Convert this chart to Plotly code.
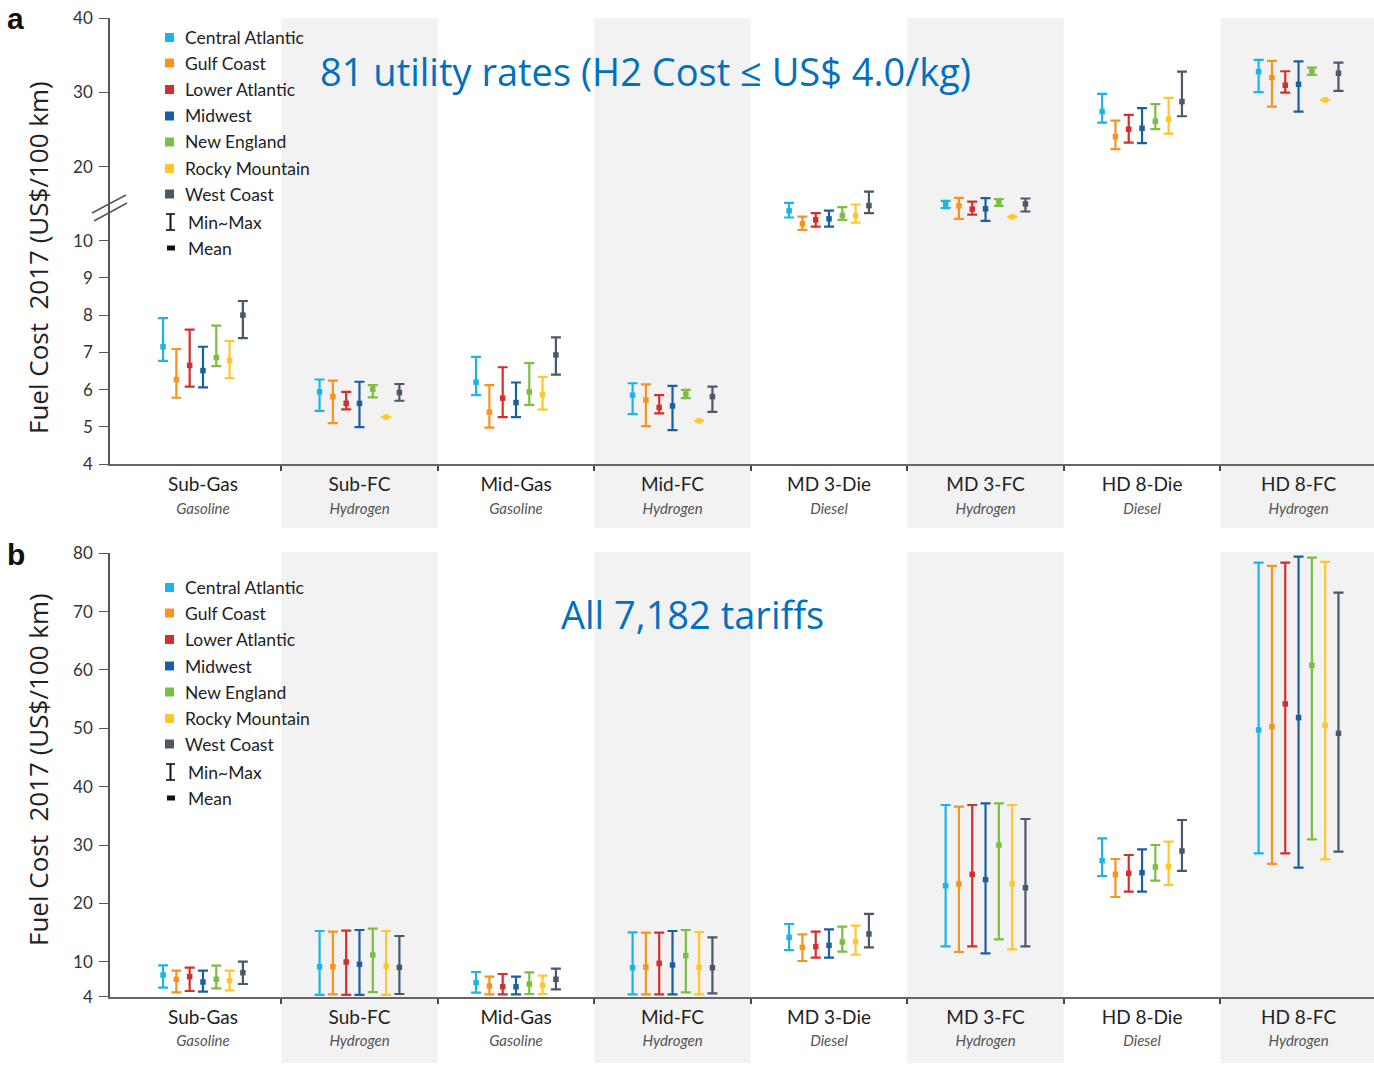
import plotly.graph_objects as go

W, H = 1374, 1066

CATEGORIES = ["Sub-Gas", "Sub-FC", "Mid-Gas", "Mid-FC", "MD 3-Die", "MD 3-FC", "HD 8-Die", "HD 8-FC"]
FUELS = ["Gasoline", "Hydrogen", "Gasoline", "Hydrogen", "Diesel", "Hydrogen", "Diesel", "Hydrogen"]
REGIONS = ["Central Atlantic", "Gulf Coast", "Lower Atlantic", "Midwest", "New England", "Rocky Mountain", "West Coast"]
COLORS = ["#1bb4ea", "#f7931e", "#d32f2f", "#1b5fa3", "#7cbd42", "#ffc72c", "#4b5866"]

# ---- Panel a: 81 utility rates (H2 cost <= US$4.0/kg) ----
A_MEAN = {
    "Central Atlantic": [7.15, 5.94, 6.20, 5.85, 14.03, 14.93, 27.41, 32.80],
    "Gulf Coast":       [6.27, 5.81, 5.39, 5.72, 12.28, 14.70, 24.04, 32.00],
    "Lower Atlantic":   [6.65, 5.63, 5.77, 5.52, 12.82, 14.26, 25.04, 30.97],
    "Midwest":          [6.51, 5.63, 5.65, 5.56, 12.95, 14.30, 25.17, 31.10],
    "New England":      [6.86, 6.01, 5.94, 5.88, 13.40, 15.20, 26.12, 32.90],
    "Rocky Mountain":   [6.78, 5.26, 5.87, 5.16, 13.36, 13.22, 26.39, 28.99],
    "West Coast":       [8.00, 5.92, 6.93, 5.81, 14.74, 14.97, 28.76, 32.59],
}
A_MIN = {
    "Central Atlantic": [6.77, 5.43, 5.85, 5.34, 13.13, 14.39, 25.93, 30.03],
    "Gulf Coast":       [5.78, 5.10, 4.98, 5.02, 11.47, 12.95, 22.34, 28.09],
    "Lower Atlantic":   [6.08, 5.47, 5.26, 5.36, 11.91, 13.53, 23.23, 29.97],
    "Midwest":          [6.06, 4.99, 5.26, 4.91, 11.91, 12.68, 23.15, 27.41],
    "New England":      [6.63, 5.79, 5.59, 5.77, 12.82, 14.70, 25.04, 32.36],
    "Rocky Mountain":   [6.31, 5.26, 5.46, 5.16, 12.45, 13.22, 24.45, 28.99],
    "West Coast":       [7.38, 5.70, 6.40, 5.40, 13.72, 13.94, 26.79, 30.20],
}
A_MAX = {
    "Central Atlantic": [7.92, 6.27, 6.88, 6.17, 15.11, 15.38, 29.80, 34.38],
    "Gulf Coast":       [7.09, 6.24, 6.12, 6.14, 13.26, 15.78, 26.20, 34.25],
    "Lower Atlantic":   [7.61, 5.94, 6.60, 5.85, 13.72, 15.28, 26.97, 32.86],
    "Midwest":          [7.15, 6.21, 6.19, 6.10, 14.07, 15.74, 27.87, 34.20],
    "New England":      [7.72, 6.12, 6.71, 5.99, 14.53, 15.61, 28.41, 33.34],
    "Rocky Mountain":   [7.31, 5.26, 6.34, 5.16, 14.88, 13.22, 29.26, 28.99],
    "West Coast":       [8.38, 6.15, 7.40, 6.08, 16.63, 15.69, 32.80, 34.02],
}

# ---- Panel b: all 7,182 tariffs ----
B_MEAN = {
    "Central Atlantic": [7.72, 9.14, 6.40, 8.97, 14.18, 23.03, 27.32, 49.72],
    "Gulf Coast":       [6.98, 9.14, 5.83, 9.09, 12.46, 23.32, 24.98, 50.29],
    "Lower Atlantic":   [7.43, 9.95, 5.71, 9.72, 12.57, 24.98, 25.15, 54.18],
    "Midwest":          [6.52, 9.55, 5.71, 9.43, 12.81, 24.06, 25.26, 51.83],
    "New England":      [6.98, 11.15, 6.18, 11.03, 13.38, 30.00, 26.23, 60.80],
    "Rocky Mountain":   [6.74, 9.26, 5.95, 9.03, 13.43, 23.38, 26.35, 50.52],
    "West Coast":       [8.12, 9.03, 6.98, 8.97, 14.75, 22.69, 28.98, 49.15],
}
B_MIN = {
    "Central Atlantic": [5.54, 4.30, 4.69, 4.40, 12.00, 12.64, 24.69, 28.58],
    "Gulf Coast":       [4.75, 4.40, 4.40, 4.40, 10.12, 11.66, 21.09, 26.75],
    "Lower Atlantic":   [4.98, 4.30, 4.40, 4.40, 10.69, 12.64, 22.00, 28.58],
    "Midwest":          [4.86, 4.30, 4.40, 4.40, 10.69, 11.43, 22.00, 26.12],
    "New England":      [5.43, 4.80, 4.46, 4.75, 11.71, 13.83, 23.89, 30.98],
    "Rocky Mountain":   [5.10, 4.30, 4.46, 4.40, 11.20, 12.11, 23.15, 27.55],
    "West Coast":       [6.18, 4.46, 5.27, 4.57, 12.46, 12.64, 25.55, 28.86],
}
B_MAX = {
    "Central Atlantic": [9.38, 15.26, 8.23, 15.03, 16.46, 36.86, 31.15, 78.40],
    "Gulf Coast":       [8.46, 15.14, 7.43, 14.97, 14.69, 36.57, 27.60, 77.84],
    "Lower Atlantic":   [8.97, 15.31, 7.89, 14.97, 15.14, 36.86, 28.29, 78.40],
    "Midwest":          [8.46, 15.43, 7.43, 15.26, 15.55, 37.15, 29.26, 79.43],
    "New England":      [9.31, 15.66, 8.17, 15.43, 16.00, 37.15, 30.00, 79.26],
    "Rocky Mountain":   [8.46, 15.26, 7.60, 15.09, 16.17, 36.86, 30.57, 78.52],
    "West Coast":       [10.00, 14.40, 8.80, 14.18, 18.18, 34.46, 34.29, 73.26],
}

A_LOW_TICKS = [4, 5, 6, 7, 8, 9, 10]
A_HIGH_TICKS = [20, 30, 40]
B_TICKS = [4, 10, 20, 30, 40, 50, 60, 70, 80]

FONT = "Lato"
TITLE_FONT = "Open Sans"
BREAK_VALUE = 10


def px(xp):
    return xp / W


def py(yp):
    return 1 - yp / H


X_RANGE = [-0.594, 7.482]
OFFSET_STEP = 0.085
BAND_COLOR = "#f2f2f2"

fig = go.Figure()


def add_series(mean, vmin, vmax, xaxis, yaxis_for):
    for k, reg in enumerate(REGIONS):
        groups = {}
        for i in range(len(CATEGORIES)):
            ya = yaxis_for(vmax[reg][i])
            groups.setdefault(ya, []).append(i)
        for ya, idx in groups.items():
            xs = [i + (k - 3) * OFFSET_STEP for i in idx]
            m = [mean[reg][i] for i in idx]
            plus = [vmax[reg][i] - mean[reg][i] for i in idx]
            minus = [mean[reg][i] - vmin[reg][i] for i in idx]
            fig.add_trace(go.Scatter(
                x=xs, y=m, mode="markers", xaxis=xaxis, yaxis=ya,
                marker=dict(symbol="square", size=5.5, color=COLORS[k]),
                error_y=dict(type="data", symmetric=False, array=plus, arrayminus=minus,
                             color=COLORS[k], thickness=2.2, width=5),
                name=reg, showlegend=False, cliponaxis=False,
            ))


add_series(A_MEAN, A_MIN, A_MAX, "x", lambda v: "y" if v <= BREAK_VALUE else "y2")
add_series(B_MEAN, B_MIN, B_MAX, "x2", lambda v: "y3")

tick_text = [
    f"<span style='font-size:19px'>{c}</span><br>"
    f"<span style='font-size:15px;color:#555555'><i>{f}</i></span>"
    for c, f in zip(CATEGORIES, FUELS)
]
xcommon = dict(
    range=X_RANGE, domain=[px(110), 1.0], showline=True, linecolor="#666666", linewidth=2,
    tickmode="array", tickvals=list(range(len(CATEGORIES))), ticktext=tick_text,
    ticks="", showgrid=False, zeroline=False, ticklabelstandoff=5,
    tickfont=dict(family=FONT, size=17, color="#222222"),
    minor=dict(tickmode="array", tickvals=[i + 0.5 for i in range(len(CATEGORIES) - 1)],
               ticks="outside", ticklen=5, tickcolor="#444444", tickwidth=1.5, showgrid=False),
)
ycommon = dict(
    showline=True, linecolor="#555555", linewidth=1.5, ticks="outside", ticklen=9,
    tickcolor="#555555", tickwidth=1.2, showgrid=False, zeroline=False, tickmode="array",
    tickfont=dict(family=FONT, size=17, color="#333333"), ticklabelstandoff=3,
)

fig.update_layout(
    width=W, height=H, margin=dict(l=0, r=0, t=0, b=0, autoexpand=False),
    paper_bgcolor="white", plot_bgcolor="rgba(0,0,0,0)", showlegend=False,
    xaxis=dict(anchor="y", **xcommon),
    yaxis=dict(domain=[py(464), py(240.7)], range=[4, 10], anchor="x",
               tickvals=A_LOW_TICKS, **ycommon),
    yaxis2=dict(domain=[py(240.7), py(18.3)], range=[10, 40], anchor="x",
                tickvals=A_HIGH_TICKS, **ycommon),
    xaxis2=dict(anchor="y3", **xcommon),
    yaxis3=dict(domain=[py(996.7), py(553.3)], range=[4, 80], anchor="x2",
                tickvals=B_TICKS, **ycommon),
)

shapes = []
for i in range(1, len(CATEGORIES), 2):
    shapes.append(dict(type="rect", xref="x", yref="paper", x0=i - 0.5, x1=i + 0.5,
                       y0=py(528), y1=py(18), fillcolor=BAND_COLOR, line=dict(width=0), layer="below"))
    shapes.append(dict(type="rect", xref="x2", yref="paper", x0=i - 0.5, x1=i + 0.5,
                       y0=py(1063), y1=py(552), fillcolor=BAND_COLOR, line=dict(width=0), layer="below"))

# axis-break marks on the y axis of panel a
for (x0, y0, x1, y1) in [(92, 213, 126, 195), (94, 221, 127, 203)]:
    shapes.append(dict(type="line", xref="paper", yref="paper", x0=px(x0), y0=py(y0),
                       x1=px(x1), y1=py(y1), line=dict(color="#555555", width=1.5)))

annotations = []


def add_legend(dy):
    ys = [37.5, 63, 89.5, 116, 142, 168.5, 194]
    for k, reg in enumerate(REGIONS):
        yc = ys[k] + dy
        shapes.append(dict(type="rect", xref="paper", yref="paper", x0=px(165), x1=px(174),
                           y0=py(yc + 4.5), y1=py(yc - 4.5), fillcolor=COLORS[k], line=dict(width=0)))
        annotations.append(dict(xref="paper", yref="paper", x=px(183), y=py(yc), text=reg,
                                showarrow=False, xanchor="left", yanchor="middle",
                                font=dict(family=FONT, size=17.5, color="#222222")))
    yc = 222 + dy
    shapes.append(dict(type="line", xref="paper", yref="paper", x0=px(170.5), x1=px(170.5),
                       y0=py(yc - 8), y1=py(yc + 8), line=dict(color="#111111", width=2)))
    for yy in (yc - 8, yc + 8):
        shapes.append(dict(type="line", xref="paper", yref="paper", x0=px(166), x1=px(175),
                           y0=py(yy), y1=py(yy), line=dict(color="#111111", width=1.6)))
    annotations.append(dict(xref="paper", yref="paper", x=px(186), y=py(yc), text="Min~Max",
                            showarrow=False, xanchor="left", yanchor="middle",
                            font=dict(family=FONT, size=17.5, color="#222222")))
    yc = 248 + dy
    shapes.append(dict(type="rect", xref="paper", yref="paper", x0=px(167), x1=px(175),
                       y0=py(yc + 2.5), y1=py(yc - 2.5), fillcolor="#111111", line=dict(width=0)))
    annotations.append(dict(xref="paper", yref="paper", x=px(186), y=py(yc), text="Mean",
                            showarrow=False, xanchor="left", yanchor="middle",
                            font=dict(family=FONT, size=17.5, color="#222222")))


add_legend(0)
add_legend(550)

ytitle = "Fuel Cost\u00a0 2017 (US$/100 km)"
annotations += [
    dict(xref="paper", yref="paper", x=px(38), y=py(258), text=ytitle, textangle=-90,
         showarrow=False, xanchor="center", yanchor="middle",
         font=dict(family=TITLE_FONT, size=26, color="#222222")),
    dict(xref="paper", yref="paper", x=px(38), y=py(770), text=ytitle, textangle=-90,
         showarrow=False, xanchor="center", yanchor="middle",
         font=dict(family=TITLE_FONT, size=26, color="#222222")),
    dict(xref="paper", yref="paper", x=px(15), y=py(0), text="<b>a</b>", showarrow=False,
         xanchor="center", yanchor="top", font=dict(family="Liberation Sans", size=30, color="#111111")),
    dict(xref="paper", yref="paper", x=px(16), y=py(554), text="<b>b</b>", showarrow=False,
         xanchor="center", yanchor="middle", font=dict(family="Liberation Sans", size=30, color="#111111")),
    dict(xref="paper", yref="paper", x=px(645), y=py(71), text="81 utility rates (H2 Cost \u2264 US$ 4.0/kg)",
         showarrow=False, xanchor="center", yanchor="middle",
         font=dict(family=TITLE_FONT, size=38, color="#0070c0")),
    dict(xref="paper", yref="paper", x=px(692), y=py(614), text="All 7,182 tariffs",
         showarrow=False, xanchor="center", yanchor="middle",
         font=dict(family=TITLE_FONT, size=38, color="#0070c0")),
]

fig.update_layout(shapes=shapes, annotations=annotations)

POST = """
document.documentElement.style.margin='0';document.body.style.margin='0';
document.documentElement.style.overflow='hidden';document.body.style.overflow='hidden';
"""
fig.write_html("out.html", post_script=POST, config={"displayModeBar": False})
